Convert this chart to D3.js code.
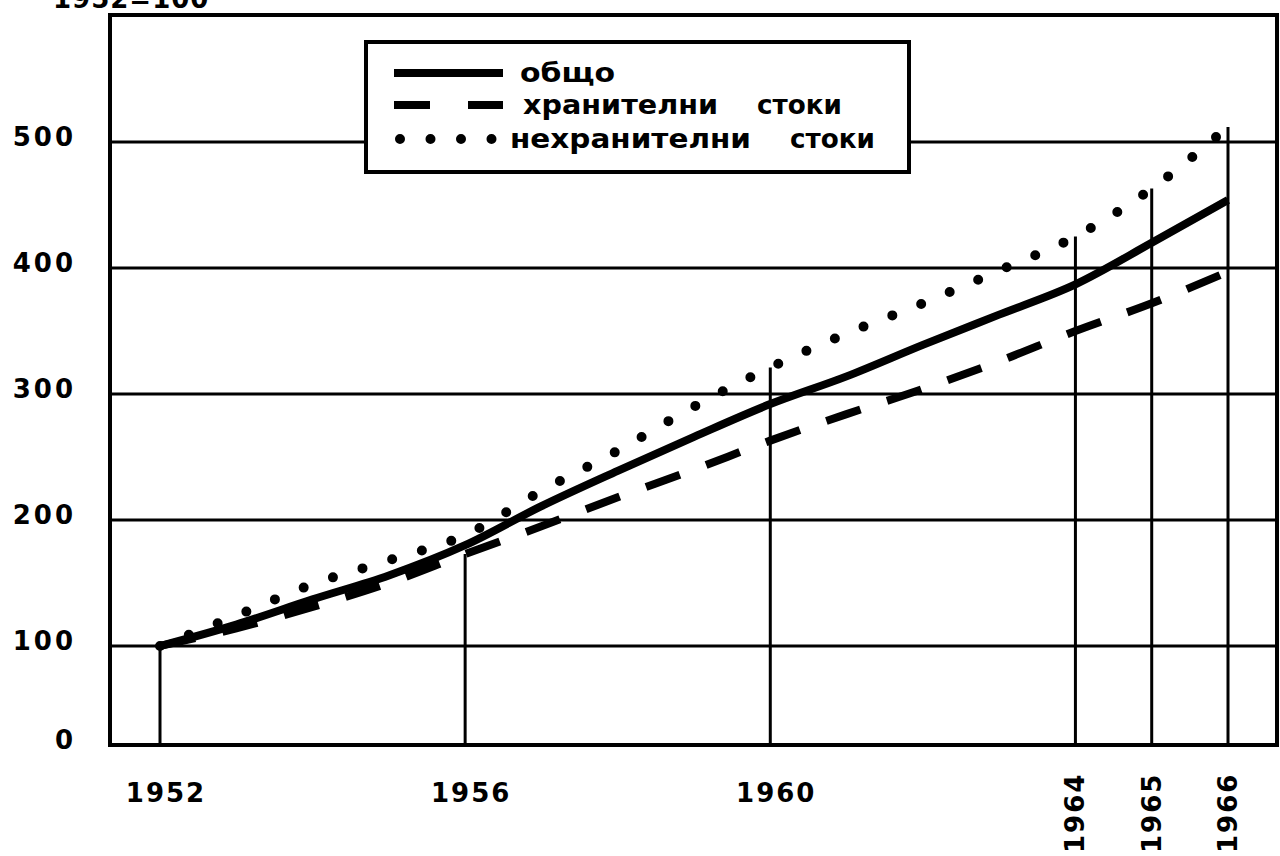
<!DOCTYPE html>
<meta charset="utf-8">
<script src="https://d3js.org/d3.v7.min.js"></script>
<style>
  body { margin: 0; background: #fff; }
  text { font-family: "DejaVu Sans", sans-serif; font-weight: bold; fill: #000; }
</style>
<div id="chart"></div>
<script>
  // Index values, 1952 = 100
  const years    = [1952, 1953, 1954, 1955, 1956, 1957, 1958, 1959, 1960, 1961, 1962, 1963, 1964, 1965, 1966];
  const total    = [100, 117, 137, 156, 180, 211, 239, 266, 292, 314, 339, 363, 387, 420, 454];
  const food     = [100, 114, 131, 150, 173, 195, 218, 240, 263, 284, 304, 326, 350, 372, 397];
  const nonFood  = [100, 124, 149, 168, 188, 223, 255, 290, 321, 348, 372, 398, 425, 463, 512];

  // years marked on the x axis, and how high each drop line goes
  const markYears = [1952, 1956, 1960, 1964, 1965, 1966];
  const markTops  = [100, 173, 321, 425, 463, 512];
  const rotatedYears = [1964, 1965, 1966];

  const yTicks = [0, 100, 200, 300, 400, 500];
  const seriesNames = ["общо", "хранителни стоки", "нехранителни стоки"];

  const width = 1280, height = 856;
  const frameL = 110, frameR = 1277, frameT = 15, frameB = 745;

  const svg = d3.select("#chart").append("svg")
    .attr("width", width)
    .attr("height", height);

  const x = d3.scaleLinear().domain([1952, 1966]).range([160, 1228]);
  // the axis is broken between 0 and 100
  const y = d3.scaleLinear().domain([0, 100, 500]).range([frameB, 646, 142]);

  // grid lines
  svg.selectAll(".grid")
    .data(yTicks.slice(1))
    .enter().append("line")
      .attr("x1", frameL).attr("x2", frameR)
      .attr("y1", d => y(d)).attr("y2", d => y(d))
      .attr("stroke", "#000").attr("stroke-width", 3);

  // y labels
  svg.selectAll(".ylab")
    .data(yTicks)
    .enter().append("text")
      .attr("x", 76)
      .attr("y", d => y(d) + 4)
      .attr("text-anchor", "end")
      .style("font-size", "26px")
      .style("letter-spacing", "3px")
      .text(d => d);

  // drop lines
  svg.selectAll(".drop")
    .data(markYears)
    .enter().append("line")
      .attr("x1", d => x(d)).attr("x2", d => x(d))
      .attr("y1", frameB)
      .attr("y2", (d, i) => y(markTops[i]))
      .attr("stroke", "#000").attr("stroke-width", 3);

  // x labels
  svg.selectAll(".xlab")
    .data(markYears)
    .enter().append("text")
      .style("font-size", "26px")
      .style("letter-spacing", "2px")
      .attr("text-anchor", d => rotatedYears.includes(d) ? "start" : "middle")
      .attr("transform", d => rotatedYears.includes(d)
        ? `translate(${x(d) + 9}, 853) rotate(-90)`
        : `translate(${x(d) + 6}, 802)`)
      .text(d => d);

  const line = d3.line()
    .x((d, i) => x(years[i]))
    .y(d => y(d))
    .curve(d3.curveMonotoneX);

  svg.append("path").datum(food)
    .attr("d", line).attr("fill", "none")
    .attr("stroke", "#000").attr("stroke-width", 8)
    .attr("stroke-dasharray", "36,28");

  svg.append("path").datum(nonFood)
    .attr("d", line).attr("fill", "none")
    .attr("stroke", "#000").attr("stroke-width", 10)
    .attr("stroke-linecap", "round")
    .attr("stroke-dasharray", "0,31");

  svg.append("path").datum(total)
    .attr("d", line).attr("fill", "none")
    .attr("stroke", "#000").attr("stroke-width", 8);

  // frame
  svg.append("rect")
    .attr("x", frameL).attr("y", frameT)
    .attr("width", frameR - frameL).attr("height", frameB - frameT)
    .attr("fill", "none").attr("stroke", "#000").attr("stroke-width", 4);

  // base label, cut by the top of the page as in the scan
  svg.append("text")
    .attr("x", 53).attr("y", 8)
    .style("font-size", "26px")
    .style("letter-spacing", "1px")
    .text("1952=100");

  // legend
  const lg = svg.append("g");
  lg.append("rect")
    .attr("x", 366).attr("y", 42)
    .attr("width", 543).attr("height", 130)
    .attr("fill", "#fff").attr("stroke", "#000").attr("stroke-width", 4);

  const rowY = [73, 105, 139];
  lg.append("line")
    .attr("x1", 394).attr("x2", 503).attr("y1", rowY[0]).attr("y2", rowY[0])
    .attr("stroke", "#000").attr("stroke-width", 8);
  lg.append("line")
    .attr("x1", 394).attr("x2", 503).attr("y1", rowY[1]).attr("y2", rowY[1])
    .attr("stroke", "#000").attr("stroke-width", 8)
    .attr("stroke-dasharray", "36,38");
  lg.append("line")
    .attr("x1", 400).attr("x2", 492).attr("y1", rowY[2]).attr("y2", rowY[2])
    .attr("stroke", "#000").attr("stroke-width", 10)
    .attr("stroke-linecap", "round")
    .attr("stroke-dasharray", "0,30.5");

  // word boxes of the legend text: [start, width] for each word
  const wordBoxes = [
    [[520, 95]],
    [[523, 195], [757, 85]],
    [[510, 241], [790, 85]]
  ];
  seriesNames.forEach((name, i) => {
    name.split(" ").forEach((word, j) => {
      lg.append("text")
        .attr("x", wordBoxes[i][j][0])
        .attr("y", rowY[i] + 9)
        .attr("textLength", wordBoxes[i][j][1])
        .attr("lengthAdjust", "spacingAndGlyphs")
        .style("font-size", "27px")
        .text(word);
    });
  });
</script>
